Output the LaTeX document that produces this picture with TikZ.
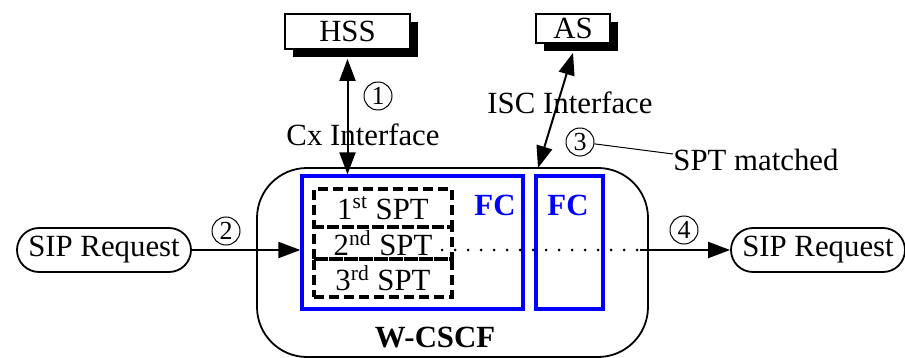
\documentclass[tikz,border=0pt]{standalone}
\usepackage{fontspec}
\setmainfont{Liberation Serif}
\usepackage{xcolor}
\usepackage{tikz}
\usetikzlibrary{arrows.meta,positioning,calc,shadows}
\definecolor{fcblue}{RGB}{0,0,255}

\begin{document}
\begin{tikzpicture}[x=0.5pt,y=-0.5pt,>={Triangle[length=11pt,width=8pt]},
  font=\fontsize{15.4}{18}\selectfont,
  every node/.style={inner sep=0pt},
  server/.style={draw,fill=white,line width=0.9pt,drop shadow={shadow xshift=4pt,shadow yshift=-4pt,fill=black,opacity=1}},
  pill/.style={draw,rounded corners=11pt,line width=0.9pt,minimum width=87pt,minimum height=22pt},
  fcbox/.style={draw=fcblue,line width=1.6pt,minimum height=66.5pt},
  fclabel/.style={text=fcblue,font=\fontsize{15.4}{18}\selectfont\bfseries},
  sptbox/.style={draw,line width=1.6pt,dash pattern=on 5pt off 2.5pt,minimum width=69pt},
  num/.style={circle,draw,line width=0.5pt,minimum size=14pt,font=\fontsize{13}{13}\selectfont},
  link/.style={line width=1pt}]
\useasboundingbox (0,0) rectangle (905,358);
\node[server,minimum width=62.5pt,minimum height=17.5pt] (hss) at (347.5,31.5) {HSS};
\node[server,minimum width=37pt,minimum height=14.5pt] (as) at (573,28.5) {AS};
\node[draw,rounded corners=25pt,line width=0.9pt,minimum width=195.5pt,minimum height=94.5pt] (wcscf) at (452.5,262.5) {};
\node[font=\fontsize{15.4}{18}\selectfont\bfseries] (wlabel) at (435,338) {W-CSCF};
\node[fcbox,minimum width=110.5pt] (fc1) at (412.5,242.5) {};
\node[fcbox,minimum width=33.5pt] (fc2) at (569.5,242.5) {};
\node[fclabel] (fc1lbl) at (495,205) {FC};
\node[fclabel] (fc2lbl) at (568,205) {FC};
\node[sptbox,minimum height=19pt] (spt1) at (383,208) {1\textsuperscript{st} SPT};
\node[sptbox,minimum height=16pt] (spt2) at (383,243) {2\textsuperscript{nd} SPT};
\node[sptbox,minimum height=19pt] (spt3) at (383,278) {3\textsuperscript{rd} SPT};
\node[pill] (sipin) at (104,250) {SIP Request};
\node[pill] (sipout) at (818,250) {SIP Request};
\coordinate (iscend) at (538,168);
\coordinate (dotstart) at (442,250);
\coordinate (dotend) at (640,250);
\node[num] (n1) at (378,96) {1};
\node[num] (n2) at (226,231) {2};
\node[num] (n3) at (580,142) {3};
\node[num] (n4) at (684,230) {4};
\node (cx) at (363,135) {Cx Interface};
\node (isc) at (570,103) {ISC Interface};
\node[anchor=west] (matched) at (673,160) {SPT matched};
\draw[link,<->] ([yshift=-4.5pt]hss.south) -- (hss.south |- fc1.north);
\draw[link,<->] ([yshift=-4.5pt]as.south) -- (iscend);
\draw[link,->] (sipin) -- (sipin -| fc1.west);
\draw[line width=1.5pt,line cap=round,dash pattern=on 0pt off 6.5pt] (dotstart) -- (dotend);
\draw[link,->] (dotend) -- (sipout);
\draw[line width=0.5pt] (n3) -- ([yshift=3pt]matched.west);
\end{tikzpicture}
\end{document}
